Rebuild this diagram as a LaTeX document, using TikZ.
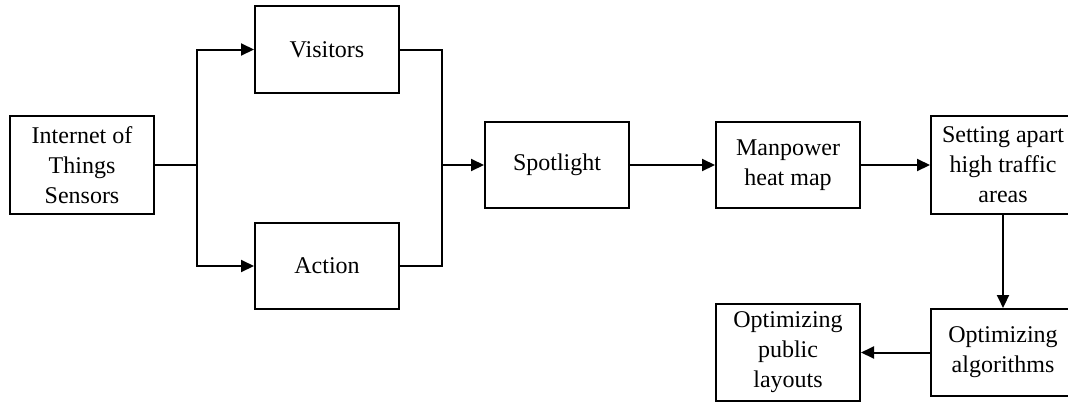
\documentclass[tikz,border=0pt]{standalone}
\usepackage{fontspec}
\setmainfont{Liberation Serif}
\usetikzlibrary{arrows.meta}
\tikzset{
  blk/.style={draw=black, line width=1pt, align=center, inner sep=2pt,
    minimum width=72pt, font=\fontsize{12}{15}\selectfont},
  flow/.style={-{Triangle[length=6.5pt,width=6pt]}, line width=1pt},
  link/.style={line width=1pt},
}
\begin{document}
\begin{tikzpicture}[x=0.5pt, y=-0.5pt]
    \useasboundingbox (0,0) rectangle (1068,402);
    % left part
    \node[blk, minimum height=49pt] (iot) at (82,165) {Internet of\\Things\\Sensors};
    \node[blk, minimum height=43.5pt] (vis) at (327,49.5) {Visitors};
    \node[blk, minimum height=43pt] (act) at (327,266) {Action};
    % main row
    \node[blk, minimum height=43pt] (spot) at (557,165) {Spotlight};
    \node[blk, minimum height=43pt] (heat) at (788,165) {Manpower\\heat map};
    \node[blk, minimum height=49pt] (apart) at (1003,165) {Setting apart\\high traffic\\areas};
    % lower row
    \node[blk, minimum height=43.5pt] (alg) at (1003,352.5) {Optimizing\\algorithms};
    \node[blk, minimum height=48.5pt] (pub) at (788,352.5) {Optimizing\\public\\layouts};
    \coordinate (split) at (197,165);
    \coordinate (merge) at (442,165);
    \draw[link] (iot.east) -- (split);
    \draw[flow] (split) |- (vis.west);
    \draw[flow] (split) |- (act.west);
    \draw[link] (vis.east) -| (merge);
    \draw[link] (act.east) -| (merge);
    \draw[flow] (merge) -- (spot.west);
    \draw[flow] (spot) -- (heat);
    \draw[flow] (heat) -- (apart);
    \draw[flow] (apart) -- (alg);
    \draw[flow] (alg) -- (pub);
\end{tikzpicture}
\end{document}
